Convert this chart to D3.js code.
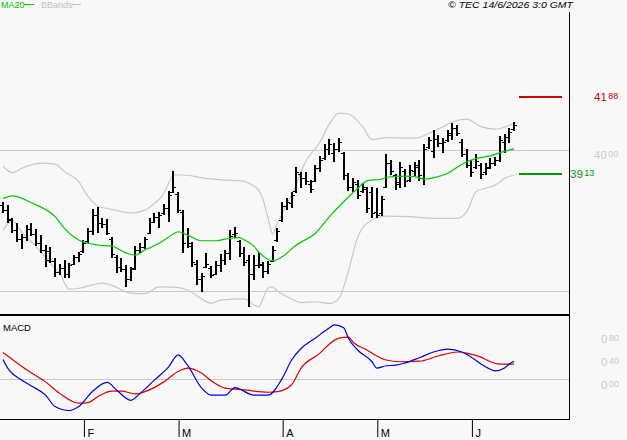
<!DOCTYPE html>
<html><head><meta charset="utf-8">
<script src="https://cdn.jsdelivr.net/npm/d3@7"></script>
<style>
body{margin:0;background:#f8f8f8;}
svg{display:block;font-family:"Liberation Sans",Arial,sans-serif;}
</style>
</head><body>
<svg id="c" width="627" height="440"></svg>
<script>
// ---- DATA ----
const high = [38.16,38.04,37.58,37.40,37.01,37.33,37.41,37.19,36.97,36.62,
36.55,36.16,35.94,36.08,35.98,36.26,36.38,36.80,37.22,37.90,
37.98,37.58,37.54,36.90,36.26,36.16,35.91,35.84,36.58,36.69,
36.91,37.58,37.76,37.80,38.08,38.55,39.25,38.52,37.86,37.22,
36.74,36.08,35.63,36.33,35.87,36.06,36.30,36.44,37.15,37.27,
36.80,36.55,36.26,36.26,36.38,36.02,36.06,36.58,37.22,38.16,
38.29,38.52,39.41,39.23,39.23,38.93,39.47,39.80,40.21,40.38,
40.24,40.42,39.94,39.19,38.99,38.93,38.84,38.67,38.67,38.64,
38.36,39.86,39.64,39.15,39.58,39.31,39.47,39.58,39.64,40.21,
40.45,40.71,40.53,40.42,40.71,40.95,40.89,40.38,40.02,39.64,
39.86,39.55,39.53,39.70,39.74,40.50,40.57,40.77,41.01];
const low = [37.75,37.41,37.06,36.74,36.47,36.77,36.94,36.58,36.33,35.84,
35.99,35.49,35.55,35.43,35.43,35.91,36.02,36.34,36.70,36.97,
37.03,37.21,36.97,36.16,35.62,35.67,35.12,35.35,35.73,36.34,
36.47,37.01,37.40,37.21,37.69,37.45,38.46,37.75,36.32,36.50,
35.85,35.19,34.96,35.79,35.43,35.55,35.67,35.91,36.08,36.86,
36.20,35.87,34.42,35.37,35.79,35.43,35.59,36.02,36.74,37.45,
37.86,37.93,38.46,38.64,38.75,38.48,38.87,39.23,39.64,39.82,
39.58,39.94,38.93,38.55,38.52,38.25,38.48,37.75,37.57,37.57,
37.65,38.64,39.11,38.58,38.64,38.69,38.87,39.07,38.91,38.75,
40.02,39.70,40.12,39.90,40.30,40.36,40.50,39.76,39.35,39.03,
39.31,38.96,39.11,39.31,39.43,39.58,39.90,40.24,40.69];
const open = [38.05,37.85,37.50,37.15,36.85,36.90,37.20,37.00,36.70,36.45,
36.40,36.05,35.65,35.80,35.60,35.95,36.20,36.40,36.75,37.10,
37.70,37.40,37.35,36.85,36.20,35.85,35.75,35.40,35.80,36.45,
36.55,37.05,37.45,37.60,37.75,37.95,38.50,38.45,37.80,37.00,
36.60,35.95,35.40,35.85,35.80,35.60,35.90,36.10,36.35,37.00,
36.75,36.35,36.10,35.60,35.90,35.90,35.70,36.05,36.80,37.50,
38.00,38.10,38.55,39.15,39.00,38.80,38.90,39.35,39.70,40.05,
39.90,40.05,39.90,39.10,38.70,38.80,38.55,38.60,38.50,37.80,
37.75,38.70,39.55,39.10,38.80,39.25,38.95,39.25,39.40,39.00,
40.10,39.95,40.40,40.25,40.35,40.55,40.80,40.30,39.85,39.45,
39.40,39.45,39.20,39.40,39.55,39.65,40.30,40.45,40.75];
const close = [37.85,37.55,37.15,36.85,36.90,37.20,37.00,36.70,36.45,36.10,
36.05,35.65,35.80,35.60,35.90,36.20,36.30,36.70,37.10,37.70,
37.40,37.35,37.05,36.30,35.85,35.75,35.40,35.75,36.45,36.55,
36.85,37.45,37.60,37.70,37.95,38.40,38.70,37.85,36.70,36.70,
36.00,35.40,35.50,35.95,35.55,35.90,36.10,36.35,36.95,37.05,
36.35,36.00,35.60,35.90,35.95,35.70,35.95,36.45,37.10,38.00,
38.15,38.40,39.20,39.00,38.90,38.60,39.35,39.65,40.05,40.20,
40.05,40.30,39.10,38.70,38.85,38.40,38.70,37.95,37.75,37.70,
38.25,39.55,39.25,38.85,39.40,38.90,39.30,39.45,39.10,40.05,
40.35,40.40,40.25,40.30,40.60,40.80,40.60,39.85,39.45,39.20,
39.60,39.15,39.35,39.55,39.65,40.35,40.45,40.65,40.90];

// MA20 (read at bar indices)
const maIdx = [0,2,6,11,13,16,20,23,26,28,30,33,36,37,39,42,45,47,50,51,53,54,57,59,62,66,69,72,75,77,80,81,85,87,89,91,94,97,100,103,105,108];
const maVal = [38.28,38.37,38.12,37.63,37.21,36.80,36.62,36.58,36.34,36.26,36.44,36.68,37.01,37.09,36.97,36.77,36.77,36.83,36.88,36.80,36.58,36.38,36.06,36.20,36.62,37.03,37.63,38.16,38.64,38.91,38.96,39.03,39.07,39.05,38.96,39.01,39.17,39.49,39.70,39.79,39.90,40.04];

// Bollinger bands
const bbUpIdx = [0,2,4,6,8,11,13,16,18,20,23,27,30,32,34,35,36,38,43,47,50,53,54,55,56,57,58,61,64,67,69,71,73,76,78,81,87,90,93,95,98,101,104,108];
const bbUpVal = [39.43,39.19,39.35,39.47,39.53,39.50,39.23,38.87,38.34,38.01,37.89,37.76,37.86,38.10,38.46,38.81,39.11,39.11,38.99,38.93,38.91,38.72,38.58,38.22,37.58,37.01,37.39,38.40,39.60,40.28,40.93,41.31,41.28,40.83,40.37,40.44,40.42,40.59,40.83,41.00,41.10,40.83,40.74,40.95];
const bbLoIdx = [0,2,4,7,10,12,14,16,19,21,23,27,30,33,36,39,42,44,46,51,54,56,57,58,61,63,66,69,71,73,75,78,81,86,91,96,98,100,102,104,106,108];
const bbLoVal = [37.15,37.49,37.08,36.56,35.97,35.61,35.05,35.08,35.20,35.26,35.18,34.91,34.89,35.13,35.12,35.02,34.70,34.55,34.66,34.70,34.42,35.08,35.13,34.98,34.70,34.57,34.60,34.54,34.72,35.69,36.91,37.51,37.65,37.63,37.57,37.57,37.80,38.52,38.64,38.75,38.99,39.11];

// MACD and signal
const macdIdx = [0,1,4,6,9,11,14,16,19,22,24,27,29,32,35,37,39,42,44,47,49,53,56,59,61,63,66,69,70,72,73,75,78,79,81,83,85,88,91,94,97,99,101,103,104,106,107,108];
const macdVal = [0.34,0.19,-0.02,-0.12,-0.28,-0.48,-0.55,-0.48,-0.21,-0.06,-0.19,-0.37,-0.25,-0.02,0.21,0.42,0.24,-0.16,-0.28,-0.28,-0.15,-0.28,-0.28,0.01,0.33,0.53,0.71,0.89,0.94,0.89,0.71,0.50,0.30,0.19,0.23,0.24,0.28,0.37,0.47,0.52,0.47,0.38,0.26,0.17,0.14,0.19,0.26,0.31];
const sigIdx = [0,2,5,9,12,16,18,20,23,25,28,30,34,37,39,42,44,47,51,56,58,61,63,67,69,71,73,74,77,79,81,84,88,92,96,98,101,103,105,107,108];
const sigVal = [0.46,0.34,0.16,-0.05,-0.25,-0.42,-0.41,-0.31,-0.21,-0.21,-0.26,-0.22,-0.05,0.13,0.19,0.10,-0.03,-0.16,-0.19,-0.23,-0.22,-0.10,0.19,0.45,0.61,0.71,0.73,0.64,0.50,0.40,0.33,0.30,0.31,0.40,0.47,0.45,0.38,0.30,0.26,0.26,0.26];

const monthIdx = [17,37,59,79,99];
const monthLbl = ["F","M","A","M","J"];
const priceGrid = [40.00,35.00];
const priceGridLbl = [40.00];
const resistance = 41.88;
const support = 39.13;
const macdTicks = [0.80,0.40,0.00];

// ---- CHART ----
const svg = d3.select("#c");
const W = 627, H = 440;
const plotR = 569;
const x = d3.scaleLinear().domain([0,108]).range([3,514]);
const y = d3.scaleLinear().domain([35,40]).range([290.5,150]);
const ym = d3.scaleLinear().domain([0,0.8]).range([379,333]);

svg.append("rect").attr("width",W).attr("height",H).attr("fill","#f8f8f8");

// grid
svg.selectAll(".pg").data(priceGrid).enter().append("line")
  .attr("x1",0).attr("x2",plotR).attr("y1",d=>Math.round(y(d))+0.5).attr("y2",d=>Math.round(y(d))+0.5)
  .attr("stroke","#c8c8c8");
svg.append("line").attr("x1",0).attr("x2",plotR)
  .attr("y1",Math.round(ym(0))+0.5).attr("y2",Math.round(ym(0))+0.5).attr("stroke","#c8c8c8");

const zipPts = (idx,val)=>idx.map((d,i)=>[d,val[i]]);
const lineP = d3.line().x(d=>x(d[0])).y(d=>y(d[1])).curve(d3.curveMonotoneX);
const lineM = d3.line().x(d=>x(d[0])).y(d=>ym(d[1])).curve(d3.curveMonotoneX);

// bollinger
svg.append("path").attr("d",lineP(zipPts(bbUpIdx,bbUpVal))).attr("fill","none").attr("stroke","#c8c8c8").attr("stroke-width",1.2);
svg.append("path").attr("d",lineP(zipPts(bbLoIdx,bbLoVal))).attr("fill","none").attr("stroke","#c8c8c8").attr("stroke-width",1.2);

// OHLC bars
const bars = svg.append("g");
high.forEach((h,i)=>{
  const cx = Math.round(x(i));
  bars.append("rect").attr("x",cx-1).attr("width",2)
    .attr("y",Math.round(y(h))).attr("height",Math.max(1,Math.round(y(low[i]))-Math.round(y(h))))
    .attr("fill","#000");
  bars.append("rect").attr("x",cx-3).attr("width",2).attr("y",Math.round(y(open[i]))).attr("height",1).attr("fill","#000");
  bars.append("rect").attr("x",cx+1).attr("width",2).attr("y",Math.round(y(close[i]))).attr("height",1).attr("fill","#000");
});

// MA20
svg.append("path").attr("d",lineP(zipPts(maIdx,maVal))).attr("fill","none").attr("stroke","#00c800").attr("stroke-width",1.2);

// support / resistance
svg.append("rect").attr("x",519).attr("width",43).attr("y",Math.round(y(resistance))-1).attr("height",2).attr("fill","#cc0000");
svg.append("rect").attr("x",519).attr("width",43).attr("y",Math.round(y(support))-1).attr("height",2).attr("fill","#009900");

// MACD lines
svg.append("path").attr("d",lineM(zipPts(sigIdx,sigVal))).attr("fill","none").attr("stroke","#dd0000").attr("stroke-width",1.2);
svg.append("path").attr("d",lineM(zipPts(macdIdx,macdVal))).attr("fill","none").attr("stroke","#0000dd").attr("stroke-width",1.2);

// frames
svg.append("line").attr("x1",plotR+0.5).attr("x2",plotR+0.5).attr("y1",12).attr("y2",420).attr("stroke","#000");
svg.append("rect").attr("x",0).attr("y",314).attr("width",plotR+1).attr("height",2).attr("fill","#000");
svg.append("line").attr("x1",0).attr("x2",plotR+1).attr("y1",419.5).attr("y2",419.5).attr("stroke","#000");

// x axis
const xa = d3.axisBottom(x).tickValues(monthIdx).tickSize(18).tickFormat((d,i)=>monthLbl[i]);
const gx = svg.append("g").attr("transform","translate(0.5,419)").call(xa);
gx.select(".domain").remove();
gx.selectAll("line").attr("stroke","#000");
gx.selectAll("text").attr("text-anchor","start").attr("x",3).attr("y",18).attr("dy",0)
  .attr("fill","#000").style("font-size","11px").style("font-family","Liberation Sans, Arial, sans-serif");

// price labels with small decimals
function priceLabel(v, px, baseline, color){
  const t = svg.append("text").attr("x",px).attr("y",baseline).attr("fill",color);
  const s = v.toFixed(2).split(".");
  t.append("tspan").text(s[0]).style("font-size","11.5px");
  t.append("tspan").text(s[1]).attr("dx",1.5).attr("dy",-2.5).style("font-size","9px");
}
priceGridLbl.forEach(v=>priceLabel(v,594,Math.round(y(v))+9,"#c8c8c8"));
priceLabel(resistance,594,Math.round(y(resistance))+4,"#cc0000");
priceLabel(support,570,Math.round(y(support))+4,"#009900");
macdTicks.forEach(v=>priceLabel(v,601,Math.round(ym(v))+10,"#c8c8c8"));

// labels
svg.append("text").attr("x",3).attr("y",331).text("MACD").style("font-size","9.5px").attr("fill","#000");
svg.append("text").attr("x",1).attr("y",8).text("MA20").style("font-size","9px").attr("fill","#00c800");
svg.append("line").attr("x1",24).attr("x2",34).attr("y1",4.5).attr("y2",4.5).attr("stroke","#00c800");
svg.append("text").attr("x",41).attr("y",8).text("BBands").style("font-size","9px").attr("fill","#c0c0c0");
svg.append("line").attr("x1",72).attr("x2",81).attr("y1",4.5).attr("y2",4.5).attr("stroke","#c0c0c0");
svg.append("text").attr("x",448).attr("y",8).attr("textLength",125).attr("lengthAdjust","spacingAndGlyphs")
  .text("© TEC 14/6/2026 3:0 GMT").style("font-size","9px").style("font-style","italic").attr("fill","#000");
</script>
</body></html>
